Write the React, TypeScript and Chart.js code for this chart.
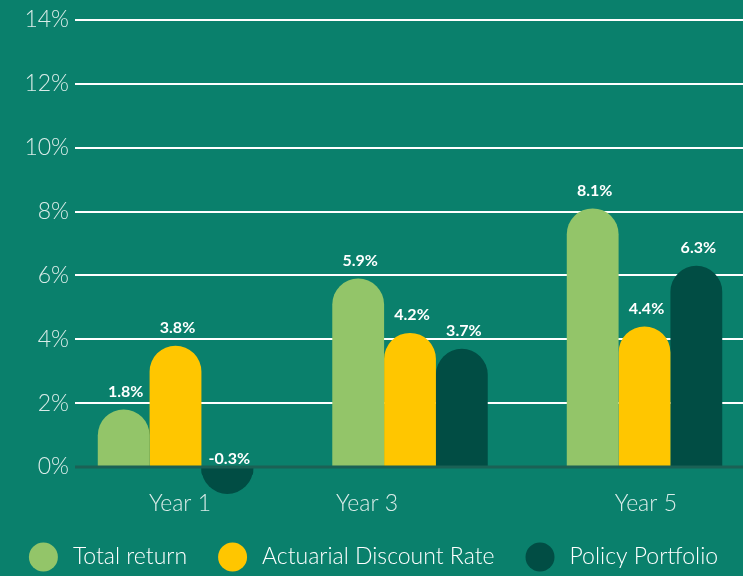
import React, { useEffect, useRef } from "react";
import { Chart, registerables } from "chart.js";

Chart.register(...registerables);

const categories = ["Year 1", "Year 3", "Year 5"];
const seriesNames = ["Total return", "Actuarial Discount Rate", "Policy Portfolio"];
const totalReturn = [1.8, 5.9, 8.1];
const actuarialDiscountRate = [3.8, 4.2, 4.4];
const policyPortfolio = [-0.3, 3.7, 6.3];
const yTickValues = [0, 2, 4, 6, 8, 10, 12, 14];

const seriesValues = [totalReturn, actuarialDiscountRate, policyPortfolio];
const seriesColors = ["#93c569", "#ffc600", "#014d44"];
const BG = "#0a806c";
const FONT = "Lato, 'Open Sans', sans-serif";
const X_MIN = -0.4286;
const X_MAX = 2.42;

const decorPlugin = {
  id: "decor",
  afterDatasetsDraw(chart: any) {
    const ctx = chart.ctx;
    const area = chart.chartArea;
    // full round end caps for bars shorter than their half-width
    chart.data.datasets.forEach((ds: any, di: number) => {
      const meta = chart.getDatasetMeta(di);
      meta.data.forEach((el: any) => {
        const { x, y, base, width } = el.getProps(["x", "y", "base", "width"], true);
        const h = Math.abs(base - y);
        const r = width / 2;
        if (h < r) {
          ctx.save();
          ctx.fillStyle = ds.backgroundColor;
          ctx.beginPath();
          if (y > base) ctx.arc(x, base, r, 0, Math.PI);
          else ctx.arc(x, base, r, Math.PI, 2 * Math.PI);
          ctx.closePath();
          ctx.fill();
          ctx.restore();
        }
      });
    });
    // zero line
    const y0 = chart.scales.y.getPixelForValue(0);
    ctx.save();
    ctx.strokeStyle = "#1b6155";
    ctx.lineWidth = 3;
    ctx.beginPath();
    ctx.moveTo(area.left, y0);
    ctx.lineTo(area.right, y0);
    ctx.stroke();
    ctx.restore();
    // data labels
    ctx.save();
    ctx.fillStyle = "#ffffff";
    ctx.font = `bold 16px ${FONT}`;
    ctx.textAlign = "center";
    ctx.textBaseline = "middle";
    chart.data.datasets.forEach((ds: any, di: number) => {
      const meta = chart.getDatasetMeta(di);
      meta.data.forEach((el: any, i: number) => {
        const { x, y } = el.getProps(["x", "y"], true);
        const v = ds.data[i].y;
        ctx.fillText(v.toFixed(1) + "%", x + 2, y - 18);
      });
    });
    ctx.restore();
  },
  afterDraw(chart: any) {
    const ctx = chart.ctx;
    const r = 14.5;
    const gapText = 15;
    const gapItem = 31;
    ctx.save();
    ctx.font = `300 23px ${FONT}`;
    const widths = chart.data.datasets.map((ds: any) => ctx.measureText(ds.label).width);
    const total =
      widths.reduce((a: number, w: number) => a + 2 * r + gapText + w, 0) +
      gapItem * (widths.length - 1);
    let x = (chart.width - total) / 2 + 2;
    const cy = chart.height - 19;
    ctx.textBaseline = "middle";
    ctx.textAlign = "left";
    chart.data.datasets.forEach((ds: any, i: number) => {
      ctx.fillStyle = ds.backgroundColor;
      ctx.beginPath();
      ctx.arc(x + r, cy, r, 0, 2 * Math.PI);
      ctx.fill();
      ctx.fillStyle = "#ffffff";
      ctx.fillText(ds.label, x + 2 * r + gapText, cy);
      x += 2 * r + gapText + widths[i] + gapItem;
    });
    ctx.restore();
  },
};

export default function App() {
  const canvasRef = useRef<HTMLCanvasElement | null>(null);

  useEffect(() => {
    if (!canvasRef.current) return;
    const chart = new Chart(canvasRef.current, {
      type: "bar",
      data: {
        datasets: seriesNames.map((name, si) => ({
          label: name,
          data: seriesValues[si].map((v, i) => ({ x: i, y: v })),
          backgroundColor: seriesColors[si],
          borderRadius: 40,
          borderSkipped: "start",
          barPercentage: 1,
          categoryPercentage: 0.663,
          clip: false,
        })),
      },
      options: {
        animation: false,
        responsive: true,
        maintainAspectRatio: false,
        layout: { padding: { top: 20, left: 0, right: 0, bottom: 59 } },
        plugins: {
          legend: { display: false },
          tooltip: { enabled: false },
        },
        scales: {
          x: {
            type: "linear",
            display: false,
            min: X_MIN,
            max: X_MAX,
            offset: false,
            afterBuildTicks: (axis: any) => {
              axis.ticks = categories.map((_c, i) => ({ value: i }));
            },
          },
          xLabels: {
            type: "linear",
            axis: "x",
            position: "bottom",
            min: X_MIN,
            max: X_MAX,
            offset: false,
            grid: { display: false, drawTicks: false },
            border: { display: false },
            afterBuildTicks: (axis: any) => {
              axis.ticks = [0.019, 0.817, 2.006].map((value) => ({ value }));
            },
            afterFit: (axis: any) => {
              axis.height = 50;
            },
            ticks: {
              autoSkip: false,
              maxRotation: 0,
              padding: 23,
              color: "rgba(255,255,255,0.85)",
              font: { family: FONT, size: 23, weight: "300" },
              callback: (_v: any, i: number) => categories[i],
            },
          },
          y: {
            min: 0,
            max: 14,
            afterBuildTicks: (axis: any) => {
              axis.ticks = yTickValues.map((value) => ({ value }));
            },
            afterFit: (axis: any) => {
              axis.width = 75;
            },
            grid: {
              drawTicks: false,
              lineWidth: 2,
              color: (c: any) => (c.tick && c.tick.value === 0 ? "rgba(0,0,0,0)" : "#ffffff"),
            },
            border: { display: false },
            ticks: {
              padding: 6,
              color: "rgba(255,255,255,0.85)",
              font: { family: FONT, size: 23, weight: "300" },
              callback: (v: any) => v + "%",
            },
          },
        },
      },
      plugins: [decorPlugin],
    } as any);
    return () => chart.destroy();
  }, []);

  return (
    <div
      style={{
        position: "absolute",
        left: 0,
        top: 0,
        width: 743,
        height: 576,
        background: BG,
      }}
    >
      <canvas ref={canvasRef} />
    </div>
  );
}
